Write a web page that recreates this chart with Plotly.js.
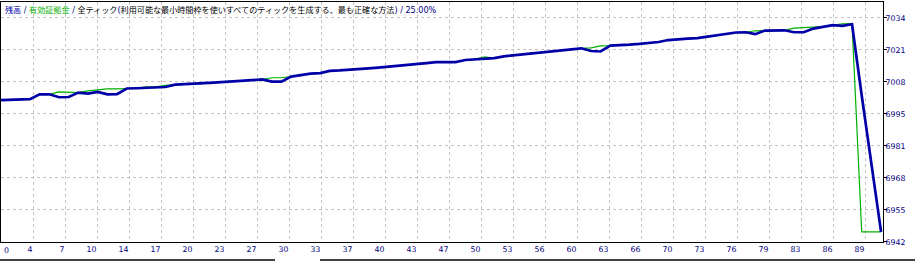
<!DOCTYPE html>
<html>
<head>
<meta charset="utf-8">
<script src="https://cdn.plot.ly/plotly-3.0.1.min.js"></script>
<style>
  html, body { margin: 0; padding: 0; background: #ffffff; }
  #chart { width: 915px; height: 261px; }
</style>
</head>
<body>
<div id="chart"></div>
<script>
// ---- data ----
const titleParts = ['残高', '有効証拠金', '全ティック', '利用可能な最小時間枠を使いすべてのティックを生成する、最も正確な方法', '25.00%'];

const xTickLabels = ['0','4','7','10','14','17','20','23','27','30','33','37','40','43','47','50','53','56','60','63','66','70','73','76','79','83','86','89'];
const yTickLabels = ['6942','6955','6968','6981','6995','7008','7021','7034'];

const trades = [0,1,2,3,4,5,6,7,8,9,10,11,12,13,14,15,16,17,18,19,20,21,22,23,24,25,26,27,28,29,30,
  31,32,33,34,35,36,37,38,39,40,41,42,43,44,45,46,47,48,49,50,51,52,53,54,55,56,57,58,59,60,
  61,62,63,64,65,66,67,68,69,70,71,72,73,74,75,76,77,78,79,80,81,82,83,84,85,86,87,88,89,90,91];

const balance = [
  7000.2, 7000.4, 7000.6, 7000.6, 7002.6, 7002.6, 7001.4, 7001.5, 7003.3, 7002.9,
  7003.6, 7002.6, 7002.7, 7005.0, 7005.1, 7005.2, 7005.5, 7005.6, 7006.6, 7006.7,
  7006.8, 7007.2, 7007.4, 7007.7, 7008.0, 7008.2, 7008.5, 7008.7, 7007.8, 7007.8,
  7009.9, 7010.5, 7011.1, 7011.3, 7012.2, 7012.4, 7012.8, 7013.0, 7013.3, 7013.6,
  7013.9, 7014.2, 7014.6, 7015.0, 7015.4, 7015.8, 7015.8, 7015.8, 7016.7, 7017.0,
  7017.0, 7017.5, 7018.2, 7018.6, 7018.9, 7019.5, 7020.0, 7020.2, 7020.6, 7021.2,
  7021.5, 7020.4, 7020.2, 7022.6, 7022.7, 7023.0, 7023.3, 7023.6, 7024.1, 7024.9,
  7025.3, 7025.5, 7025.7, 7026.3, 7027.1, 7027.7, 7028.0, 7028.1, 7027.3, 7028.8,
  7028.9, 7028.9, 7028.1, 7028.1, 7029.6, 7030.4, 7031.0, 7030.7, 7031.4, 7002.1,
  6973.3, 6946.1
];

const equity = [
  7000.2, 7000.4, 7000.6, 7000.6, 7002.6, 7002.6, 7003.6, 7003.6, 7003.3, 7004.0,
  7004.4, 7004.8, 7004.8, 7005.0, 7005.1, 7005.7, 7005.7, 7006.3, 7006.6, 7006.7,
  7006.8, 7007.2, 7007.4, 7007.7, 7008.0, 7008.2, 7008.5, 7008.7, 7009.4, 7009.4,
  7009.9, 7010.5, 7011.1, 7011.3, 7012.2, 7012.4, 7012.8, 7013.0, 7013.3, 7013.6,
  7013.9, 7014.2, 7014.6, 7015.0, 7015.4, 7015.8, 7015.8, 7015.8, 7016.7, 7017.0,
  7018.0, 7017.5, 7018.2, 7018.6, 7018.9, 7019.5, 7020.0, 7020.2, 7020.6, 7021.2,
  7021.5, 7021.7, 7022.5, 7022.6, 7022.7, 7023.0, 7023.3, 7023.6, 7024.1, 7024.9,
  7025.3, 7025.5, 7025.7, 7026.3, 7027.1, 7027.7, 7028.0, 7028.1, 7028.7, 7028.8,
  7028.9, 7028.9, 7029.8, 7029.9, 7030.0, 7030.4, 7031.0, 7031.5, 7031.6, 6946.1,
  6946.1, 6946.1
];

// ---- layout / scale settings ----
const W = 915, H = 261;
const M = { l: 1, r: 32, t: 2, b: 19 };
const plotW = W - M.l - M.r;   // 882
const plotH = H - M.t - M.b;   // 240
const xRange = [0, 91.2];
const gridPx = 32;
const xStep = (xRange[1] - xRange[0]) * gridPx / plotW;
const xTickVals = xTickLabels.map((_, k) => xRange[0] + k * xStep);
const yBase = 6942;
const yStep = 92 / 7;
const yTickVals = yTickLabels.map((_, k) => yBase + k * yStep);
const yLow = yBase - 0.05;
const yRange = [yLow, yLow + plotH * yStep / gridPx];

const tickFont = { family: 'DejaVu Sans, Liberation Sans, sans-serif', size: 7.8, color: '#000080' };
const navy = '#000080', blue = '#0000A8', green = '#00B000';

const titleText =
  '<span style="color:' + blue + '">' + titleParts[0] + '</span>' +
  '<span style="color:' + navy + '"> / </span>' +
  '<span style="color:' + green + '">' + titleParts[1] + '</span>' +
  '<span style="color:' + navy + '"> / </span>' +
  '<span style="color:#000000">' + titleParts[2] + '</span>' +
  '<span style="color:' + navy + '">(</span>' +
  '<span style="color:#000000">' + titleParts[3] + '</span>' +
  '<span style="color:' + navy + '">) / ' + titleParts[4] + '</span>';

const traces = [
  { x: trades, y: equity, type: 'scatter', mode: 'lines', name: titleParts[1],
    line: { color: green, width: 1.2 }, hoverinfo: 'skip' },
  { x: trades, y: balance, type: 'scatter', mode: 'lines', name: titleParts[0],
    line: { color: blue, width: 2.7 }, hoverinfo: 'skip' }
];

const pxX = (px) => (px - M.l) / plotW;
const pxY = (py) => (H - M.b - py) / plotH;

const layout = {
  width: W, height: H,
  margin: M,
  paper_bgcolor: '#ffffff', plot_bgcolor: '#ffffff',
  showlegend: false,
  xaxis: {
    range: xRange, tickmode: 'array', tickvals: xTickVals,
    ticktext: xTickLabels.map((t, k) => k === 0 ? '' : t),
    ticks: '', ticklabelposition: 'outside left',
    tickfont: tickFont,
    showgrid: true, gridcolor: '#c4c4c4', griddash: '3px,3px', gridwidth: 1,
    showline: true, mirror: true, linecolor: '#000000', linewidth: 1,
    zeroline: false, fixedrange: true
  },
  yaxis: {
    side: 'right', range: yRange, tickmode: 'array', tickvals: yTickVals, ticktext: yTickLabels,
    ticks: 'outside', ticklen: 3, tickcolor: '#000000', tickwidth: 1,
    ticklabelstandoff: -3,
    tickfont: tickFont,
    showgrid: true, gridcolor: '#c4c4c4', griddash: '3px,3px', gridwidth: 1,
    showline: true, mirror: true, linecolor: '#000000', linewidth: 1,
    zeroline: false, fixedrange: true
  },
  annotations: [
    { xref: 'paper', yref: 'paper', x: pxX(3), y: pxY(9.5), xanchor: 'left', yanchor: 'middle',
      text: titleText, showarrow: false,
      font: { family: 'DejaVu Sans, Noto Sans CJK JP, sans-serif', size: 8.1, color: '#000000' } },
    { xref: 'x', yref: 'paper', x: xTickVals[0], y: pxY(250), xanchor: 'left', yanchor: 'middle',
      xshift: 1, text: xTickLabels[0], showarrow: false, font: tickFont }
  ],
  shapes: [
    { type: 'line', xref: 'paper', yref: 'paper', x0: pxX(0), x1: pxX(275), y0: pxY(260), y1: pxY(260),
      line: { color: '#000000', width: 1.5 } },
    { type: 'line', xref: 'paper', yref: 'paper', x0: pxX(320), x1: pxX(915), y0: pxY(260), y1: pxY(260),
      line: { color: '#000000', width: 1.5 } }
  ]
};

Plotly.newPlot('chart', traces, layout, { displayModeBar: false, staticPlot: true });
</script>
</body>
</html>
